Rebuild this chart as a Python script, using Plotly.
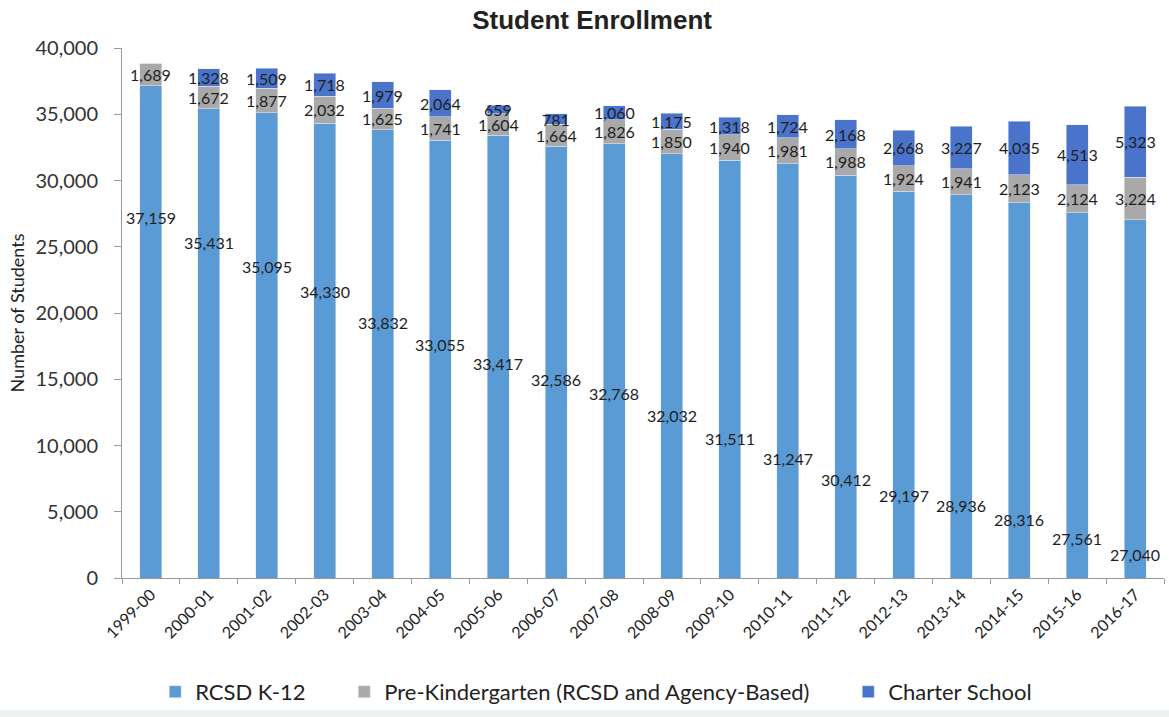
import plotly.graph_objects as go

# School years
years = ["1999-00", "2000-01", "2001-02", "2002-03", "2003-04", "2004-05",
         "2005-06", "2006-07", "2007-08", "2008-09", "2009-10", "2010-11",
         "2011-12", "2012-13", "2013-14", "2014-15", "2015-16", "2016-17"]

# Enrollment by group
k12 = [37159, 35431, 35095, 34330, 33832, 33055, 33417, 32586, 32768,
       32032, 31511, 31247, 30412, 29197, 28936, 28316, 27561, 27040]
prek = [1689, 1672, 1877, 2032, 1625, 1741, 1604, 1664, 1826,
        1850, 1940, 1981, 1988, 1924, 1941, 2123, 2124, 3224]
charter = [0, 1328, 1509, 1718, 1979, 2064, 659, 781, 1060,
           1175, 1318, 1724, 2168, 2668, 3227, 4035, 4513, 5323]

# Heights where the original chart placed its K-12 labels (layout only)
k12_label_y = [27200, 25300, 23500, 21600, 19250, 17600, 16200, 15000, 13950,
               12250, 10500, 9050, 7450, 6250, 5450, 4400, 2950, 1750]

c_k12 = "#5b9bd5"
c_prek = "#a9a9a9"
c_charter = "#4a74cb"
label_font = dict(family="Lato, sans-serif", size=16, color="#1e1e1e")
pad = "&nbsp;" * 6

fig = go.Figure()
fig.add_trace(go.Bar(x=years, y=k12, name="RCSD K-12" + pad,
                     marker=dict(color=c_k12), hoverinfo="skip"))
fig.add_trace(go.Bar(x=years, y=prek, name="Pre-Kindergarten (RCSD and Agency-Based)" + pad,
                     marker=dict(color=c_prek), hoverinfo="skip"))
fig.add_trace(go.Bar(x=years, y=charter, name="Charter School",
                     marker=dict(color=c_charter), hoverinfo="skip"))

# Data labels
annotations = []
for i, yr in enumerate(years):
    annotations.append(dict(x=yr, y=k12_label_y[i], text=f"{k12[i]:,}",
                            showarrow=False, font=label_font))
    annotations.append(dict(x=yr, y=k12[i] + prek[i] / 2, text=f"{prek[i]:,}",
                            showarrow=False, font=label_font))
    if charter[i] > 0:
        annotations.append(dict(x=yr, y=k12[i] + prek[i] + charter[i] / 2,
                                text=f"{charter[i]:,}", showarrow=False,
                                font=label_font))

fig.update_layout(
    barmode="stack",
    bargap=0.62,
    width=1169, height=717,
    paper_bgcolor="white", plot_bgcolor="white",
    margin=dict(l=122, r=5, t=48, b=139),
    title=dict(text="<b>Student Enrollment</b>", x=0.5065, xanchor="center",
               y=0.972, yanchor="middle",
               font=dict(family="Liberation Sans, Arial, sans-serif", size=26, color="#222222")),
    xaxis=dict(type="category", tickangle=-45, showline=True, linecolor="#9a9a9a", linewidth=1,
               ticks="outside", tickson="boundaries", ticklen=5, tickcolor="#9a9a9a",
               tickfont=dict(family="Lato, sans-serif", size=16, color="#222222"),
               showgrid=False, automargin=False),
    yaxis=dict(range=[0, 40000], dtick=5000, tickformat=",",
               showline=True, linecolor="#9a9a9a", linewidth=1,
               ticks="outside", ticklen=7, tickcolor="#9a9a9a", ticklabelstandoff=12,
               showgrid=False, zeroline=False, automargin=False,
               tickfont=dict(family="Lato, sans-serif", size=20, color="#333333"),
               title=dict(text="Number of Students", standoff=6,
                          font=dict(family="Lato, sans-serif", size=18, color="#222222"))),
    legend=dict(orientation="h", xref="container", x=0.51, xanchor="center",
                yref="container", y=0.035, yanchor="middle", bgcolor="rgba(0,0,0,0)",
                font=dict(family="Lato, sans-serif", size=22, color="#222222"),
                itemwidth=30, traceorder="normal"),
    annotations=annotations,
    shapes=[dict(type="rect", xref="paper", yref="paper", x0=-0.2, x1=1.1,
                 y0=-0.262, y1=-0.249, fillcolor="#eef2ee", line=dict(width=0),
                 layer="below")],
)

# drop the page's default body margin so the chart sits flush in the window
fig.write_html("out.html", config={"displayModeBar": False},
               post_script="document.body.style.margin='0';")
